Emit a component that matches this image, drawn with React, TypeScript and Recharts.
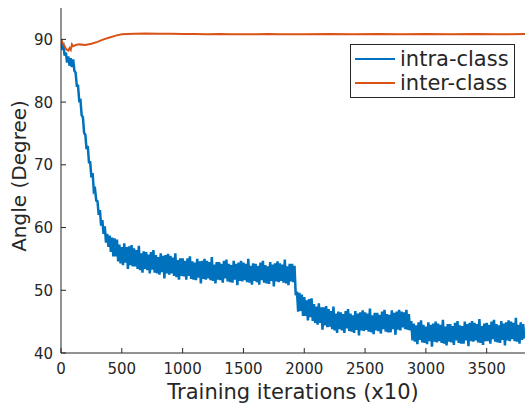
import React from 'react';
import { LineChart, Line, XAxis, YAxis, Legend } from 'recharts';

// intra-class angle, one value every 10 (x10) iterations, 0 .. 3810
const STEP = 10;
const intraClass = [
  90.0, 88.7, 89.0, 87.4, 87.9, 86.3, 87.3, 85.8, 87.0, 85.6,
  86.8, 85.0, 84.7, 82.6, 82.6, 80.2, 80.3, 77.9, 77.6, 75.1,
  74.8, 72.5, 73.0, 70.4, 70.4, 68.0, 68.7, 65.8, 66.1, 64.3,
  64.2, 62.0, 62.8, 60.3, 61.2, 59.0, 60.2, 57.6, 59.0, 56.9,
  58.7, 56.1, 58.4, 55.4, 58.3, 55.4, 58.1, 54.6, 57.3, 54.3,
  56.9, 54.0, 57.5, 54.4, 56.9, 53.4, 57.0, 54.0, 57.2, 53.8,
  56.7, 53.8, 56.4, 53.4, 57.1, 53.2, 55.9, 52.8, 56.2, 53.4,
  56.1, 53.2, 55.7, 52.7, 56.1, 53.3, 56.4, 52.8, 55.6, 52.7,
  55.3, 52.5, 55.9, 52.9, 55.5, 51.9, 55.6, 52.7, 55.8, 52.5,
  55.5, 52.7, 55.2, 52.3, 55.9, 52.1, 54.8, 51.7, 55.1, 52.3,
  55.1, 52.2, 54.7, 51.7, 55.1, 52.3, 55.4, 51.8, 54.6, 51.7,
  54.4, 51.6, 55.0, 52.0, 54.6, 51.1, 54.7, 51.8, 55.0, 51.7,
  54.7, 51.9, 54.5, 51.6, 55.3, 51.5, 54.1, 51.1, 54.5, 51.7,
  54.5, 51.6, 54.2, 51.2, 54.7, 51.9, 54.9, 51.4, 54.2, 51.3,
  54.0, 51.2, 54.7, 51.7, 54.2, 50.8, 54.4, 51.5, 54.7, 51.4,
  54.4, 51.6, 54.2, 51.3, 55.0, 51.2, 53.9, 50.9, 54.3, 51.5,
  54.2, 51.3, 53.9, 50.9, 54.4, 51.6, 54.7, 51.2, 54.0, 51.1,
  53.8, 51.0, 54.5, 51.5, 54.1, 50.6, 54.3, 51.4, 54.6, 51.3,
  54.3, 51.5, 54.1, 51.2, 54.9, 51.1, 53.8, 50.8, 54.2, 51.4,
  54.2, 51.3, 53.9, 49.2, 49.8, 46.6, 49.6, 46.7, 49.3, 45.9,
  48.9, 45.9, 48.4, 45.2, 48.6, 45.7, 48.7, 45.1, 47.8, 44.8,
  47.4, 44.5, 47.9, 44.8, 47.3, 43.7, 47.3, 44.4, 47.5, 44.1,
  47.0, 44.2, 46.7, 43.8, 47.4, 43.6, 46.3, 43.2, 46.6, 43.8,
  46.5, 43.6, 46.2, 43.2, 46.7, 43.9, 47.0, 43.5, 46.3, 43.4,
  46.0, 43.2, 46.7, 43.7, 46.3, 42.8, 46.5, 43.6, 46.8, 43.5,
  46.5, 43.7, 46.3, 43.4, 47.1, 43.3, 46.0, 43.0, 46.4, 43.6,
  46.4, 43.5, 46.1, 43.1, 46.6, 43.8, 46.9, 43.4, 46.2, 43.3,
  46.1, 43.3, 46.8, 43.8, 46.4, 42.9, 46.6, 43.7, 46.9, 43.6,
  46.6, 44.1, 46.5, 43.8, 46.9, 43.7, 46.2, 43.6, 45.1, 42.0,
  44.7, 41.8, 44.4, 41.4, 44.9, 42.1, 45.2, 41.7, 44.5, 41.6,
  44.2, 41.4, 44.9, 41.9, 44.5, 41.0, 44.7, 41.8, 45.0, 41.7,
  44.7, 41.9, 44.5, 41.6, 45.3, 41.5, 44.2, 41.2, 44.6, 41.8,
  44.6, 41.7, 44.3, 41.3, 44.8, 42.0, 45.1, 41.6, 44.4, 41.5,
  44.3, 41.5, 45.0, 42.0, 44.6, 41.1, 44.8, 41.9, 45.1, 41.8,
  44.8, 42.0, 44.6, 41.7, 45.4, 41.6, 44.3, 41.3, 44.7, 41.9,
  44.8, 41.9, 44.5, 41.5, 45.0, 42.2, 45.3, 41.8, 44.6, 41.7,
  44.4, 41.6, 45.1, 42.1, 44.7, 41.2, 44.9, 42.0, 45.2, 41.9,
  45.0, 42.2, 44.8, 41.9, 45.6, 41.8, 44.5, 41.5, 44.9, 42.1,
  44.6, 42.3,
];

// inter-class angle
const interIters = [
  0, 10, 20, 30, 40, 50, 60, 70, 80, 90,
  100, 120, 150, 200, 250, 300, 350, 400, 450, 500,
  550, 600, 700, 800, 900, 1000, 1100, 1200, 1300, 1400,
  1500, 1600, 1700, 1800, 1900, 2000, 2200, 2400, 2600, 2800,
  3000, 3200, 3400, 3600, 3815,
];
const interClass = [
  90.0, 89.6, 89.2, 88.9, 88.5, 88.3, 88.2, 88.6, 88.3, 89.2,
  88.9, 89.1, 89.2, 89.1, 89.3, 89.6, 90.0, 90.3, 90.6, 90.8,
  90.85, 90.9, 90.95, 90.9, 90.9, 90.85, 90.85, 90.8, 90.85, 90.8,
  90.8, 90.8, 90.85, 90.8, 90.8, 90.8, 90.85, 90.8, 90.85, 90.8,
  90.85, 90.8, 90.85, 90.8, 90.85,
];

const seriesNames = ['intra-class', 'inter-class'];
const xTicks = [0, 500, 1000, 1500, 2000, 2500, 3000, 3500];
const yTicks = [40, 50, 60, 70, 80, 90];

const intraData = intraClass.map((v, i) => ({ it: i * STEP, v }));
const interData = interIters.map((it, i) => ({ it, v: interClass[i] }));

const AXIS = '#262626';
const FONT = '"DejaVu Sans", sans-serif';
const TICK_LEN = 5;

// MATLAB style: ticks point into the box
const BottomTick = ({ x, y, payload }: any) => (
  <g>
    <line x1={x} y1={y} x2={x} y2={y - TICK_LEN} stroke={AXIS} />
    <text x={x} y={y + 21} textAnchor="middle" fontSize={15} fill={AXIS} fontFamily={FONT}>
      {payload.value}
    </text>
  </g>
);
const TopTick = ({ x, y }: any) => <line x1={x} y1={y} x2={x} y2={y + TICK_LEN} stroke={AXIS} />;
const LeftTick = ({ x, y, payload }: any) => (
  <g>
    <line x1={x} y1={y} x2={x + TICK_LEN} y2={y} stroke={AXIS} />
    <text x={x - 8} y={y + 5.5} textAnchor="end" fontSize={15} fill={AXIS} fontFamily={FONT}>
      {payload.value}
    </text>
  </g>
);
const RightTick = ({ x, y }: any) => <line x1={x} y1={y} x2={x - TICK_LEN} y2={y} stroke={AXIS} />;

const LegendBox = ({ payload }: any) => {
  const items = [...(payload || [])].sort(
    (a: any, b: any) => seriesNames.indexOf(a.value) - seriesNames.indexOf(b.value)
  );
  return (
    <div
      style={{
        border: `1px solid ${AXIS}`,
        background: '#fff',
        width: 165,
        height: 54,
        boxSizing: 'border-box',
        padding: '2px 4px',
        fontFamily: FONT,
        fontSize: 21,
        color: AXIS,
      }}
    >
      {items.map((e: any) => (
        <div key={e.value} style={{ display: 'flex', alignItems: 'center', height: 24 }}>
          <svg width={40} height={4} style={{ display: 'block' }}>
            <line x1={0} y1={2} x2={40} y2={2} stroke={e.color} strokeWidth={2} />
          </svg>
          <span style={{ marginLeft: 5, lineHeight: '24px' }}>{e.value}</span>
        </div>
      ))}
    </div>
  );
};

export default function App() {
  return (
    <div style={{ position: 'absolute', left: 0, top: 0, width: 526, height: 403, background: '#fff' }}>
      <LineChart width={526} height={403} margin={{ top: 8, right: 1, bottom: 0, left: 0 }}>
        <XAxis
          dataKey="it"
          type="number"
          domain={[0, 3815]}
          allowDataOverflow
          ticks={xTicks}
          height={50}
          stroke={AXIS}
          tickLine={false}
          tickSize={0}
          tickMargin={0}
          tick={BottomTick}
          label={{
            content: () => (
              <text x={293} y={399} textAnchor="middle" fontSize={21} fill={AXIS} fontFamily={FONT}>
                Training iterations (x10)
              </text>
            ),
          }}
        />
        <XAxis
          xAxisId="top"
          orientation="top"
          dataKey="it"
          type="number"
          domain={[0, 3815]}
          allowDataOverflow
          ticks={xTicks}
          height={0}
          stroke={AXIS}
          tickLine={false}
          tickSize={0}
          tickMargin={0}
          tick={TopTick}
        />
        <YAxis
          type="number"
          domain={[40, 95]}
          allowDataOverflow
          ticks={yTicks}
          width={61}
          stroke={AXIS}
          tickLine={false}
          tickSize={0}
          tickMargin={0}
          tick={LeftTick}
          label={{
            content: () => (
              <text
                x={26}
                y={176}
                transform="rotate(-90 26 176)"
                textAnchor="middle"
                fontSize={20}
                fill={AXIS}
                fontFamily={FONT}
              >
                Angle (Degree)
              </text>
            ),
          }}
        />
        <YAxis
          yAxisId="right"
          orientation="right"
          type="number"
          domain={[40, 95]}
          allowDataOverflow
          ticks={yTicks}
          width={0}
          stroke={AXIS}
          tickLine={false}
          tickSize={0}
          tickMargin={0}
          tick={RightTick}
        />
        <Legend
          layout="vertical"
          align="center"
          verticalAlign="middle"
          wrapperStyle={{ left: 350, top: 44, width: 165 }}
          content={LegendBox}
        />
        <Line
          data={intraData}
          dataKey="v"
          name="intra-class"
          stroke="#0072BD"
          strokeWidth={2.5}
          dot={false}
          isAnimationActive={false}
        />
        <Line
          data={interData}
          dataKey="v"
          name="inter-class"
          stroke="#D95319"
          strokeWidth={2}
          dot={false}
          isAnimationActive={false}
        />
      </LineChart>
    </div>
  );
}
